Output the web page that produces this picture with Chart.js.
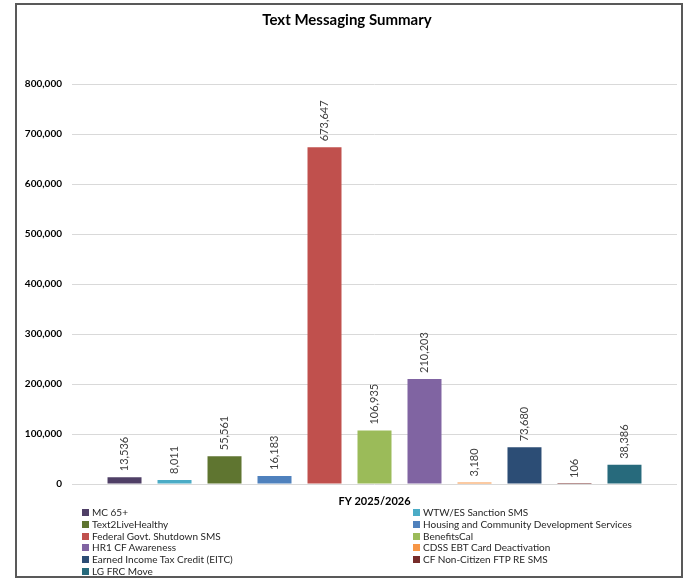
<!DOCTYPE html>
<html>
<head>
<meta charset="utf-8">
<title>Text Messaging Summary</title>
<script src="https://cdn.jsdelivr.net/npm/chart.js@4"></script>
<style>
  body { margin: 0; background: #fff; font-family: Lato, "Open Sans", sans-serif; }
  #box { position: absolute; left: 15px; top: 3px; width: 664px; height: 571px; border: 2px solid #595959; background: #fff; }
  #wrap { position: absolute; left: 0; top: 0; width: 664px; height: 505px; }
  #legend { position: absolute; left: 65px; top: 502px; width: 560px; display: grid; grid-template-columns: 331px auto; font-size: 10px; color: #262626; }
  #legend div { height: 11.8px; line-height: 11.8px; white-space: nowrap; }
  #legend span { display: inline-block; width: 7px; height: 7px; margin-right: 3px; vertical-align: 0px; }
</style>
</head>
<body>
<div id="box">
  <div id="wrap"><canvas id="myChart" width="664" height="505"></canvas></div>
  <div id="legend"></div>
</div>
<script>
// one category, every campaign is its own series
const category = ['FY 2025/2026']
const campaigns = [
  'MC 65+',
  'WTW/ES Sanction SMS',
  'Text2LiveHealthy',
  'Housing and Community Development Services',
  'Federal Govt. Shutdown SMS',
  'BenefitsCal',
  'HR1 CF Awareness',
  'CDSS EBT Card Deactivation',
  'Earned Income Tax Credit (EITC)',
  'CF Non-Citizen FTP RE SMS',
  'LG FRC Move'
]
const messages = [13536, 8011, 55561, 16183, 673647, 106935, 210203, 3180, 73680, 106, 38386]
const colors = ['#4f3f66', '#4bacc6', '#5f7530', '#4f81bd', '#c0504d', '#9bbb59', '#8064a2', '#f79646', '#2c4d75', '#772c2a', '#276a7c']
const yMax = 800000
const yStep = 100000

const fmt = (v) => v.toLocaleString('en-US')

// value written sideways just above each bar
const barValues = {
  id: 'barValues',
  afterDatasetsDraw(chart) {
    const ctx = chart.ctx
    ctx.save()
    ctx.fillStyle = '#404040'
    ctx.font = '11px Lato'
    ctx.textAlign = 'left'
    ctx.textBaseline = 'middle'
    chart.data.datasets.forEach((ds, i) => {
      chart.getDatasetMeta(i).data.forEach((bar, j) => {
        ctx.save()
        ctx.translate(bar.x, bar.y - 6)
        ctx.rotate(-Math.PI / 2)
        ctx.fillText(fmt(ds.data[j]), 0, 0)
        ctx.restore()
      })
    })
    ctx.restore()
  }
}

function makeChart(){
  const ctx = document.getElementById('myChart')
  const datasets = campaigns.map((name, i) => ({
    label: name,
    data: [messages[i]],
    backgroundColor: colors[i],
    categoryPercentage: 0.909,
    barPercentage: 0.68
  }))

  const c = new Chart(ctx, {
    type: 'bar',
    data: { labels: category, datasets: datasets },
    plugins: [barValues],
    options: {
      responsive: false,
      animation: false,
      layout: { padding: { left: 0, right: 4, top: 0, bottom: 0 } },
      plugins: {
        legend: { display: false },
        tooltip: { enabled: false },
        title: {
          display: true,
          text: 'Text Messaging Summary',
          color: '#000',
          font: { family: 'Lato', size: 15, weight: 'bold' },
          padding: { top: 6, bottom: 55 }
        }
      },
      scales: {
        x: {
          grid: { display: false, drawTicks: false },
          border: { display: false },
          ticks: { color: '#000', font: { family: 'Lato', size: 11, weight: 'bold' }, padding: 11 },
          afterFit: (s) => { s.height = 26 }
        },
        y: {
          min: 0,
          max: yMax,
          grid: { color: '#d9d9d9', drawTicks: false },
          border: { display: false },
          ticks: {
            stepSize: yStep,
            color: '#000',
            padding: 10,
            font: { family: 'Lato', size: 10, weight: 'bold' },
            callback: (v) => fmt(v)
          },
          afterFit: (s) => { s.width = 55 }
        }
      }
    }
  })
  console.log(c.chartArea)
  buildLegend(c)
}

// two column legend under the chart
function buildLegend(c){
  const el = document.getElementById('legend')
  c.data.datasets.forEach((ds) => {
    const row = document.createElement('div')
    const sw = document.createElement('span')
    sw.style.background = ds.backgroundColor
    row.appendChild(sw)
    row.appendChild(document.createTextNode(ds.label))
    el.appendChild(row)
  })
}

makeChart()
</script>
</body>
</html>
